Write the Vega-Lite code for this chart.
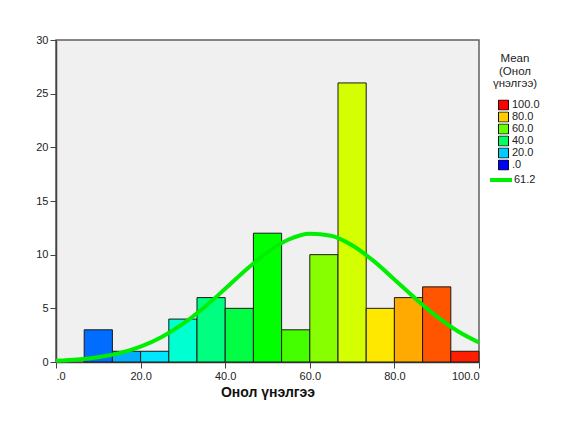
{
  "$schema": "https://vega.github.io/schema/vega-lite/v6.json",
  "autosize": {"type": "none"},
  "width": 423,
  "height": 322,
  "padding": {"left": 56, "top": 40, "right": 100, "bottom": 66},
  "background": "white",
  "config": {
    "font": "Liberation Sans",
    "view": {"fill": "#F0F0F0", "stroke": "#606060", "strokeWidth": 1.5},
    "axis": {"grid": false, "domainColor": "#444444", "domainWidth": 1.5, "tickColor": "#444444", "tickSize": 6, "labelColor": "#222222", "labelFontSize": 11, "labelFont": "Liberation Sans"}
  },
  "datasets": {
    "bins": [
      {"lo": 6.667, "hi": 13.333, "count": 3, "mean": 10.7},
      {"lo": 13.333, "hi": 20.0, "count": 1, "mean": 17.0},
      {"lo": 20.0, "hi": 26.667, "count": 1, "mean": 22.5},
      {"lo": 26.667, "hi": 33.333, "count": 4, "mean": 29.5},
      {"lo": 33.333, "hi": 40.0, "count": 6, "mean": 37.5},
      {"lo": 40.0, "hi": 46.667, "count": 5, "mean": 43.3},
      {"lo": 46.667, "hi": 53.333, "count": 12, "mean": 50.0},
      {"lo": 53.333, "hi": 60.0, "count": 3, "mean": 56.7},
      {"lo": 60.0, "hi": 66.667, "count": 10, "mean": 63.3},
      {"lo": 66.667, "hi": 73.333, "count": 26, "mean": 70.8},
      {"lo": 73.333, "hi": 80.0, "count": 5, "mean": 77.3},
      {"lo": 80.0, "hi": 86.667, "count": 6, "mean": 83.3},
      {"lo": 86.667, "hi": 93.333, "count": 7, "mean": 91.7},
      {"lo": 93.333, "hi": 100.0, "count": 1, "mean": 97.0}
    ],
    "curve": [
      {"x": 0, "y": 0.11, "s": "61.2"},
      {"x": 5, "y": 0.23, "s": "61.2"},
      {"x": 10, "y": 0.45, "s": "61.2"},
      {"x": 15, "y": 0.83, "s": "61.2"},
      {"x": 20, "y": 1.43, "s": "61.2"},
      {"x": 25, "y": 2.33, "s": "61.2"},
      {"x": 30, "y": 3.55, "s": "61.2"},
      {"x": 35, "y": 5.08, "s": "61.2"},
      {"x": 40, "y": 6.82, "s": "61.2"},
      {"x": 45, "y": 8.62, "s": "61.2"},
      {"x": 50, "y": 10.23, "s": "61.2"},
      {"x": 55, "y": 11.41, "s": "61.2"},
      {"x": 60, "y": 11.95, "s": "61.2"},
      {"x": 65, "y": 11.76, "s": "61.2"},
      {"x": 70, "y": 10.87, "s": "61.2"},
      {"x": 75, "y": 9.44, "s": "61.2"},
      {"x": 80, "y": 7.69, "s": "61.2"},
      {"x": 85, "y": 5.9, "s": "61.2"},
      {"x": 90, "y": 4.25, "s": "61.2"},
      {"x": 95, "y": 2.87, "s": "61.2"},
      {"x": 100, "y": 1.82, "s": "61.2"}
    ]
  },
  "layer": [
    {
      "data": {"name": "bins"},
      "mark": {"type": "rect", "stroke": "#1a1a1a", "strokeWidth": 1},
      "encoding": {
        "x": {"field": "lo", "type": "quantitative", "scale": {"domain": [0, 100], "nice": false, "zero": false},
              "axis": {"values": [0, 20, 40, 60, 80, 100], "labelExpr": "datum.value == 0 ? '.0' : format(datum.value, '.1f')", "labelPadding": 2,
                       "title": "Онол үнэлгээ", "titleFontSize": 14, "titleFontWeight": "bold", "titleColor": "#111111", "titlePadding": 4, "titleFont": "Liberation Sans"}},
        "x2": {"field": "hi"},
        "y": {"field": "count", "type": "quantitative", "scale": {"domain": [0, 30], "nice": false},
              "axis": {"values": [0, 5, 10, 15, 20, 25, 30], "title": null, "labelPadding": 2}},
        "y2": {"datum": 0},
        "fill": {"field": "mean", "type": "quantitative",
                 "scale": {"type": "linear", "domain": [0, 10, 20, 30, 40, 50, 60, 70, 80, 90, 100],
                           "range": ["#0000FF", "#0066FF", "#00CCFF", "#00FFCC", "#00FF66", "#00FF00", "#66FF00", "#CCFF00", "#FFCC00", "#FF6600", "#FF0000"],
                           "interpolate": "hsl"},
                 "legend": {"type": "symbol", "values": [100, 80, 60, 40, 20, 0],
                            "labelExpr": "datum.value == 0 ? '.0' : format(datum.value, '.1f')",
                            "title": ["Mean", "(Онол", "үнэлгээ)"], "titleFontSize": 11.5, "titleFontWeight": "normal", "titleColor": "#222222",
                            "titleAlign": "center", "titleAnchor": "middle", "titleLineHeight": 12.5, "titlePadding": 10,
                            "symbolType": "square", "symbolSize": 100, "symbolStrokeColor": "#111111", "symbolStrokeWidth": 1, "symbolOffset": 8,
                            "labelFontSize": 11, "labelColor": "#222222", "labelOffset": 3, "rowPadding": 0, "clipHeight": 11,
                            "orient": "none", "legendX": 434, "legendY": 13}}
      }
    },
    {
      "data": {"name": "curve"},
      "mark": {"type": "line", "strokeWidth": 4, "interpolate": "monotone"},
      "encoding": {
        "x": {"field": "x", "type": "quantitative"},
        "y": {"field": "y", "type": "quantitative"},
        "stroke": {"field": "s", "type": "nominal", "scale": {"range": ["#00EE00"]},
                   "legend": {"title": null, "symbolType": "stroke", "symbolSize": 484, "symbolStrokeWidth": 4, "clipHeight": 12,
                              "labelFontSize": 11, "labelColor": "#222222", "labelOffset": 0,
                              "orient": "none", "legendX": 432, "legendY": 134}}
      }
    }
  ]
}
